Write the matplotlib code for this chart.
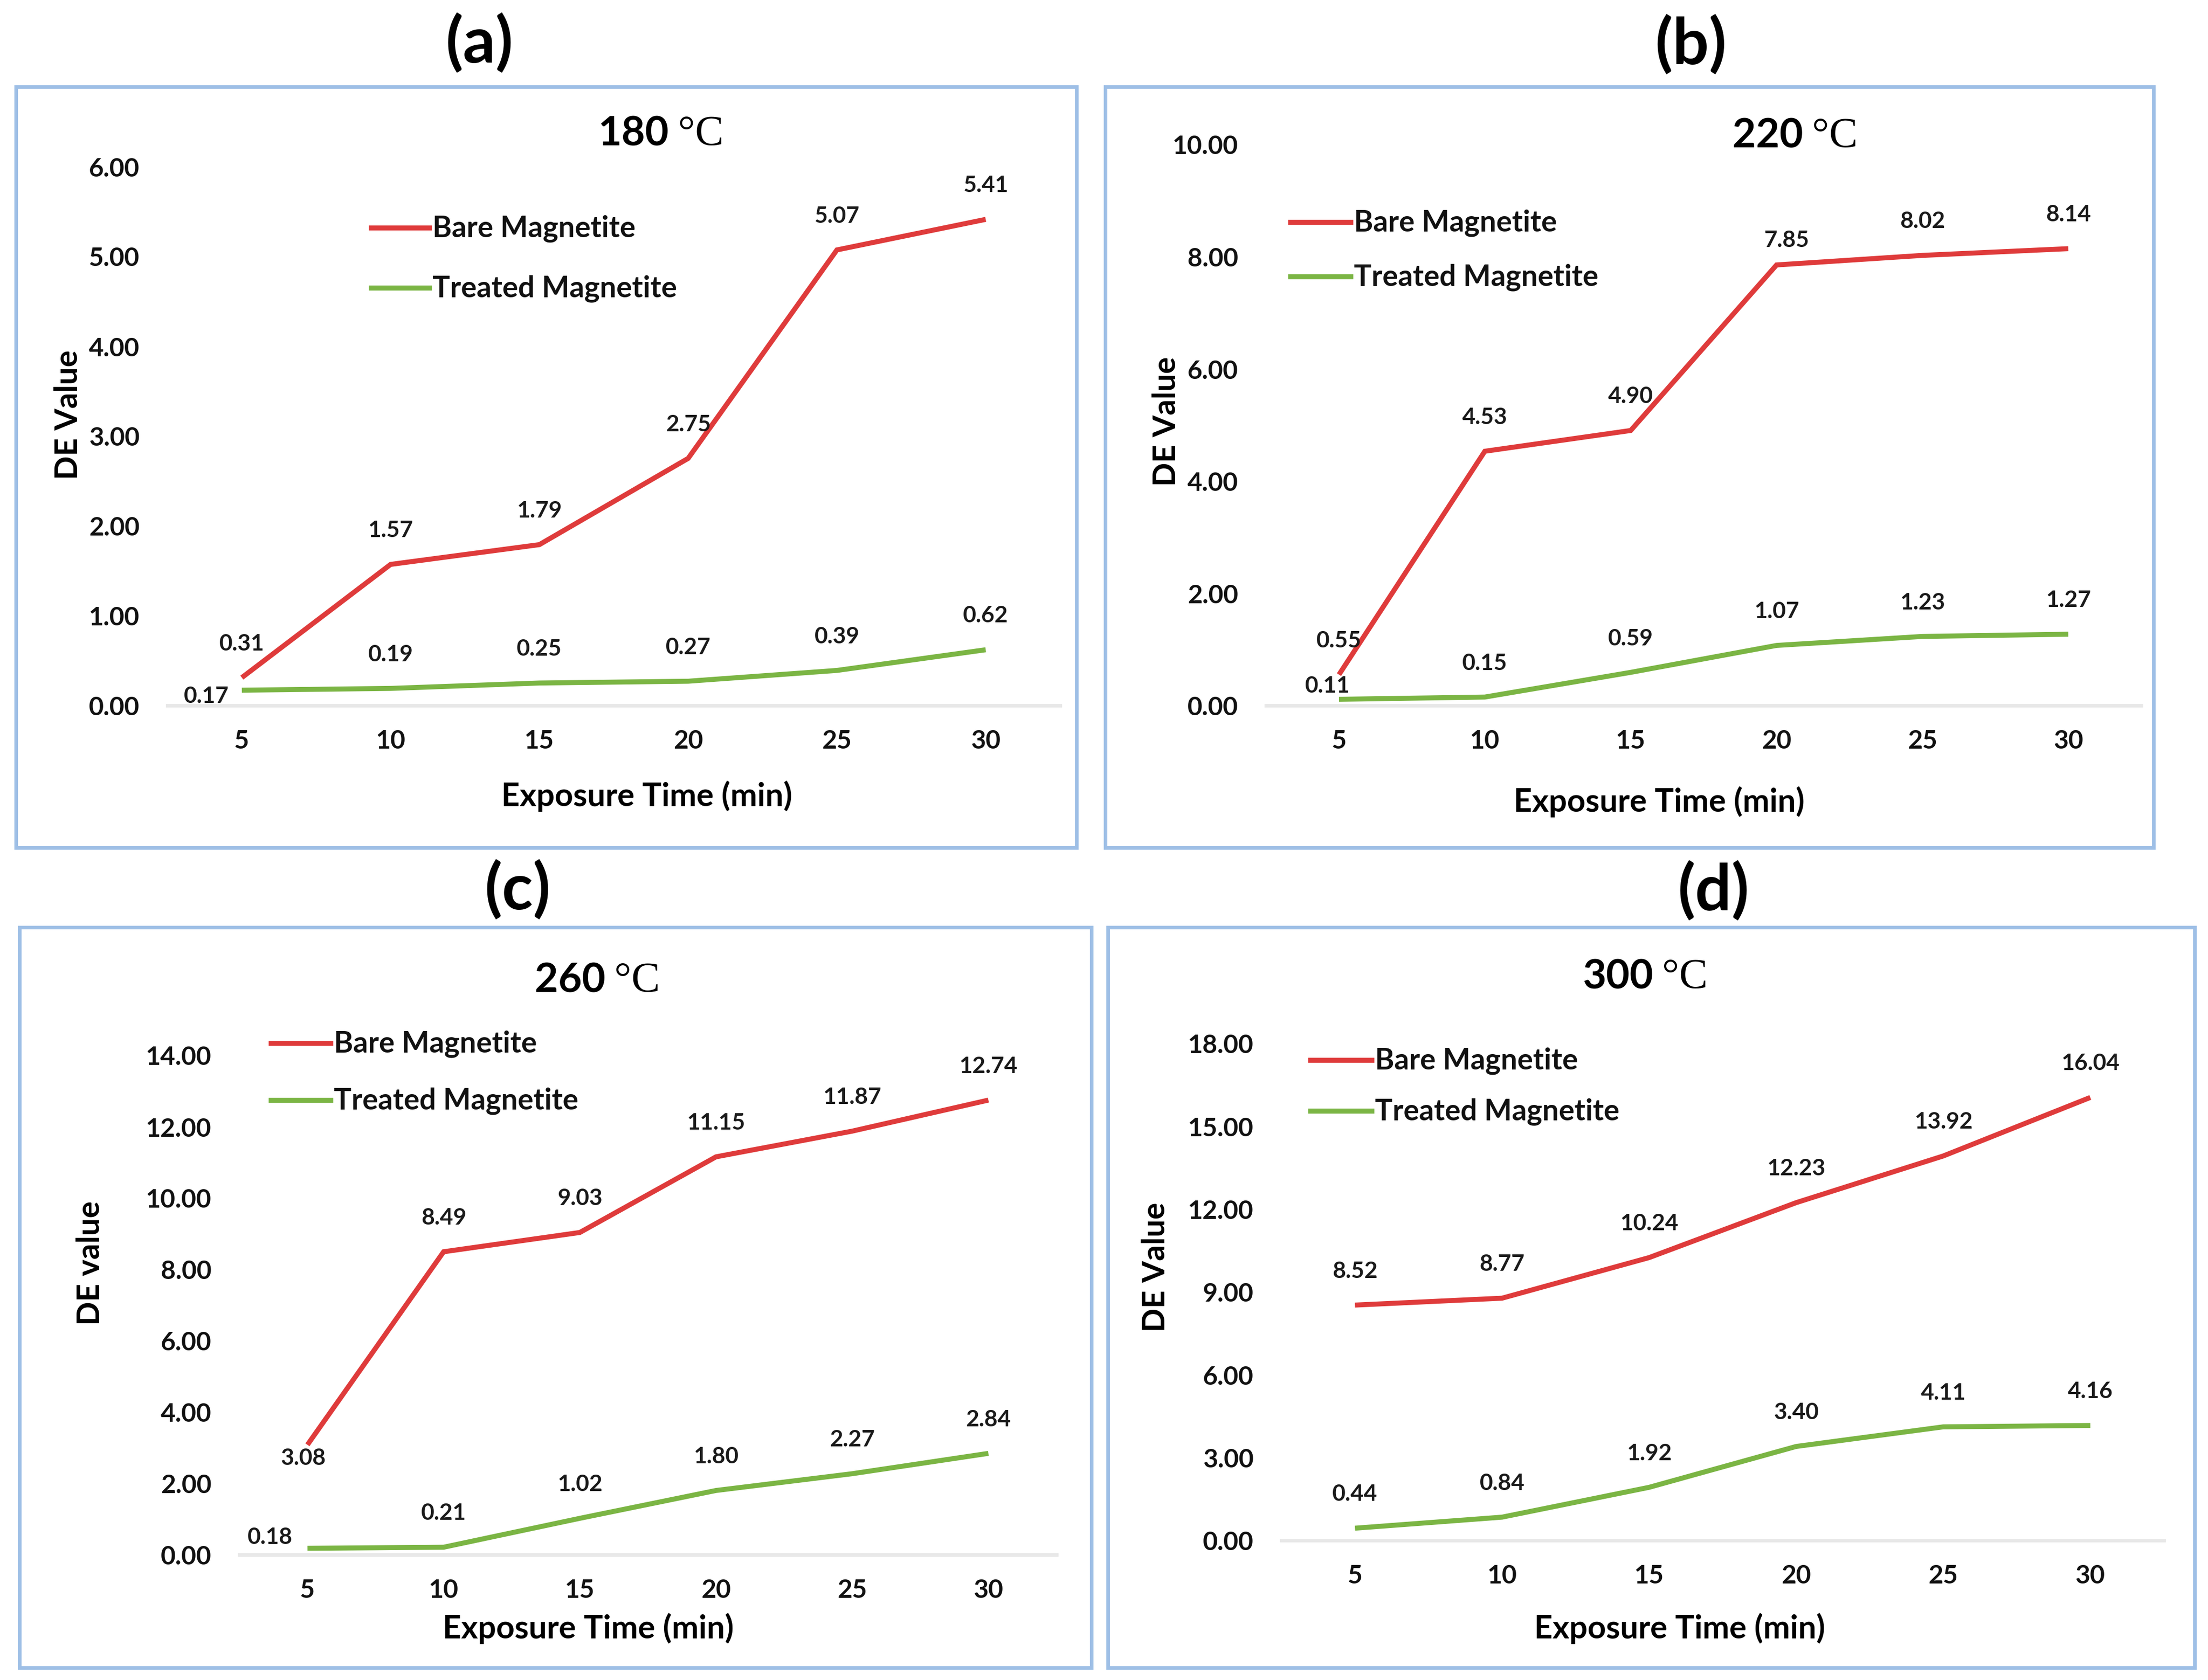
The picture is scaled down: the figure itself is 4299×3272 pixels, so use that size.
import matplotlib
matplotlib.use("Agg")
import matplotlib.pyplot as plt
from matplotlib.patches import Rectangle
from matplotlib.lines import Line2D

### data
time_min = [5, 10, 15, 20, 25, 30]

bare_180 = [0.31, 1.57, 1.79, 2.75, 5.07, 5.41]
treated_180 = [0.17, 0.19, 0.25, 0.27, 0.39, 0.62]

bare_220 = [0.55, 4.53, 4.90, 7.85, 8.02, 8.14]
treated_220 = [0.11, 0.15, 0.59, 1.07, 1.23, 1.27]

bare_260 = [3.08, 8.49, 9.03, 11.15, 11.87, 12.74]
treated_260 = [0.18, 0.21, 1.02, 1.80, 2.27, 2.84]

bare_300 = [8.52, 8.77, 10.24, 12.23, 13.92, 16.04]
treated_300 = [0.44, 0.84, 1.92, 3.40, 4.11, 4.16]

temps = ["180", "220", "260", "300"]
panel_tags = ["(a)", "(b)", "(c)", "(d)"]
ylabels = ["DE Value", "DE Value", "DE value", "DE Value"]
y_tops = [6, 10, 14, 18]
y_steps = [1, 2, 2, 3]
series_names = ["Bare Magnetite", "Treated Magnetite"]

### styling / layout (figure pixels)
W, H = 4299, 3273
RED = "#DF3B3B"
GREEN = "#7BB544"
BOX = "#9EBFE6"
FONT = "Lato"

plt.rcParams["font.family"] = [FONT, "DejaVu Sans"]
plt.rcParams["font.weight"] = "bold"

# axes: left, right, y0 pixel, ytop pixel
axes_px = [(326, 2064, 1375, 325), (2465, 4169, 1375, 282),
           (466, 2057, 3029, 2056), (2495, 4213, 3001, 2033)]
boxes_px = [(31, 170, 2096, 1652), (2152, 170, 4193, 1652),
            (38, 1807, 2125, 3249), (2157, 1807, 4273, 3249)]
tag_px = [(933, 84), (3292, 87), (1008, 1733), (3336, 1735)]
title_px = [(1296, 262), (3504, 266), (1172, 1911), (3212, 1904)]
legend_px = [(723, 836, 445, 562), (2513, 2630, 434, 540),
             (528, 644, 2033, 2144), (2552, 2671, 2066, 2165)]
ylab_px = [(133, 808), (2271, 821), (176, 2460), (2250, 2468)]
xlab_px = [(1259, 1551), (3230, 1562), (1145, 3172), (3270, 3172)]

# special data-label offsets in pixels: (panel, series, index) -> (dx, dy, ha)
label_offsets = {
    (0, 1, 0): (-25, -11, "right"),
    (1, 1, 0): (-22, 27, "center"),
    (1, 0, 3): (20, 49, "center"),
    (2, 0, 0): (-8, -25, "center"),
    (2, 1, 0): (-29, 22, "right"),
}


def fx(x):
    return x / W


def fy(y):
    return 1 - y / H


fig = plt.figure(figsize=(W / 100, H / 100), dpi=100)

panels = [(bare_180, treated_180), (bare_220, treated_220),
          (bare_260, treated_260), (bare_300, treated_300)]

for i, (bare, treated) in enumerate(panels):
    # panel frame
    bx0, by0, bx1, by1 = boxes_px[i]
    fig.add_artist(Rectangle((fx(bx0), fy(by1)), fx(bx1 - bx0), (by1 - by0) / H,
                             transform=fig.transFigure, fill=False,
                             edgecolor=BOX, linewidth=5))

    left, right, ybot, ytop = axes_px[i]
    ax = fig.add_axes([fx(left), fy(ybot), fx(right - left), (ybot - ytop) / H])
    ax.set_xlim(2.5, 32.5)
    ax.set_ylim(0, y_tops[i])

    for j, (vals, col) in enumerate([(bare, RED), (treated, GREEN)]):
        ax.plot(time_min, vals, color=col, linewidth=7, solid_joinstyle="miter",
                solid_capstyle="butt", clip_on=False, zorder=3)
        for k, (t, v) in enumerate(zip(time_min, vals)):
            dx, dy, ha = label_offsets.get((i, j, k), (0, 67, "center"))
            ax.annotate(f"{v:.2f}", (t, v), xytext=(dx, dy),
                        textcoords="offset pixels", ha=ha, va="center",
                        fontsize=32, fontweight="bold", color="#1a1a1a")

    yt = [y_steps[i] * n for n in range(int(y_tops[i] / y_steps[i]) + 1)]
    ax.set_yticks(yt)
    ax.set_yticklabels([f"{v:.2f}" for v in yt])
    ax.set_xticks(time_min)
    ax.set_xticklabels([str(t) for t in time_min])
    ax.tick_params(axis="both", length=0, labelsize=36, colors="#111111")
    ax.tick_params(axis="y", pad=39)
    ax.tick_params(axis="x", pad=33)
    for lab in ax.get_xticklabels() + ax.get_yticklabels():
        lab.set_fontweight("bold")
    for s in ["top", "left", "right"]:
        ax.spines[s].set_visible(False)
    ax.spines["bottom"].set_color("#E8E8E8")
    ax.spines["bottom"].set_linewidth(5)
    ax.spines["bottom"].set_zorder(1)

    # panel tag
    tx, ty = tag_px[i]
    fig.text(fx(tx), fy(ty), panel_tags[i], ha="center", va="center",
             fontsize=90, fontweight="bold")

    # title: number in sans, degree C in serif
    cx, cy = title_px[i]
    fig.text(fx(cx + 7), fy(cy), temps[i], ha="right", va="center",
             fontsize=57, fontweight="bold")
    fig.text(fx(cx + 24), fy(cy), "°C", ha="left", va="center",
             fontsize=60, family="Liberation Serif", fontweight="normal")

    # legend drawn by hand
    lx0, lx1, ly0, ly1 = legend_px[i]
    for ly, col, name in [(ly0, RED, series_names[0]), (ly1, GREEN, series_names[1])]:
        fig.add_artist(Line2D([fx(lx0), fx(lx1)], [fy(ly), fy(ly)],
                              transform=fig.transFigure, color=col, linewidth=7))
        fig.text(fx(lx1 + 6), fy(ly), name, ha="left", va="center",
                 fontsize=41, fontweight="bold", color="#111111")

    # axis titles
    yx, yy = ylab_px[i]
    fig.text(fx(yx), fy(yy), ylabels[i], rotation=90, ha="center", va="center",
             fontsize=44, fontweight="bold")
    xx, xy = xlab_px[i]
    fig.text(fx(xx), fy(xy), "Exposure Time (min)", ha="center", va="center",
             fontsize=45, fontweight="bold")

fig.savefig("out.png", dpi=100, facecolor="white")
